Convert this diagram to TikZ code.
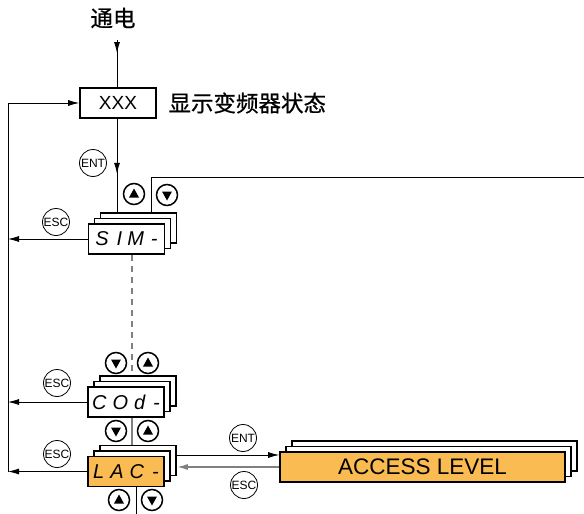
\documentclass[tikz,border=0pt]{standalone}
\usepackage{fontspec}
\setsansfont{Liberation Sans}
\newfontfamily\cjk[FakeBold=0.6]{Noto Sans CJK SC}
\usetikzlibrary{calc,shadows,decorations.markings,arrows.meta}
\definecolor{panelorange}{RGB}{250,188,82}
\tikzset{
	lcd/.style={draw, line width=1.6pt, fill=white, inner sep=0pt, minimum height=30pt, minimum width=76pt, font=\sffamily\itshape\fontsize{20}{20}\selectfont},
	lcdstack/.style={lcd, double copy shadow={shadow xshift=6pt, shadow yshift=5.5pt, fill=white, draw=black, line width=1.6pt}},
	keybtn/.style={circle, draw, line width=0.8pt, minimum size=27pt, inner sep=0pt, font=\sffamily\fontsize{12}{12}\selectfont},
	arrowbtn/.style={circle, draw, line width=1.5pt, minimum size=21pt, inner sep=0pt},
	keyup/.style={arrowbtn, path picture={\fill ($(path picture bounding box.center)+(-5pt,-3.5pt)$) -- ++(10pt,0pt) -- ++(-5pt,9pt) -- cycle;}},
	keydown/.style={arrowbtn, path picture={\fill ($(path picture bounding box.center)+(-5pt,3.5pt)$) -- ++(10pt,0pt) -- ++(-5pt,-9pt) -- cycle;}},
	flow/.style={line width=0.8pt, -{Latex[length=11pt,width=6pt]}},
	tipat/.style={decoration={markings, mark=at position #1 with {\arrow{Latex[length=11pt,width=6pt]}}}, postaction={decorate}},
	cjklabel/.style={font=\cjk\fontsize{22.5}{22.5}\selectfont}
}
\begin{document}
\begin{tikzpicture}[x=1pt, y=-1pt]
	%%%%% START %%%%%
	\useasboundingbox (0,0) rectangle (584,514);
	
	\node[cjklabel] (power) at (113,18) {通电};
	\node[lcd, font=\sffamily\fontsize{19}{19}\selectfont] (xxx) at (118,103) {XXX};
	\node[cjklabel, anchor=west] (status) at (165,103) {显示变频器状态};
	
	\node[lcdstack] (sim) at (126.5,239) {S\hspace{8pt}I\hspace{5pt}M\hspace{7pt}-};
	\node[lcdstack] (cod) at (126,402) {C\hspace{6pt}O\hspace{6pt}d\hspace{8pt}-};
	\node[lcdstack, fill=panelorange] (lac) at (126,471.5) {L\hspace{6pt}A\hspace{6pt}C\hspace{8pt}-};
	\node[lcdstack, fill=panelorange, minimum width=285pt, font=\sffamily\fontsize{22.5}{22.5}\selectfont] (access) at (422.5,467) {ACCESS LEVEL};
	
	\node[keybtn] (ent1) at (93,163) {ENT};
	\node[keyup] (up1) at (134,194) {};
	\node[keydown] (dn1) at (167,195) {};
	\node[keybtn] (esc1) at (56,222) {ESC};
	\node[keydown] (dn2) at (116,363) {};
	\node[keyup] (up2) at (148,363) {};
	\node[keybtn] (esc2) at (57,383) {ESC};
	\node[keydown] (dn3) at (116,431) {};
	\node[keyup] (up3) at (148,431) {};
	\node[keybtn] (esc3) at (57,454) {ESC};
	\node[keyup] (up4) at (119,500) {};
	\node[keydown] (dn4) at (152,500) {};
	\node[keybtn] (ent2) at (243,438) {ENT};
	\node[keybtn] (esc4) at (244,485) {ESC};
	
	\coordinate (ontop) at (117,40);
	\coordinate (loop) at (8,471.5);
	\coordinate (rightend) at (584,177);
	\coordinate (bottomend) at (136,514);
	\coordinate (lacback) at ($(lac.east)+(12,0)$);
	
	\draw[line width=0.8pt, tipat=13pt] (ontop) -- (ontop |- xxx.north);
	\draw[line width=0.8pt, tipat=55pt] (xxx.south -| ontop) -- ($(ontop |- sim.north)+(0,-11)$);
	\draw[line width=0.8pt] ($(sim.north)+(24.5,-11)$) |- (rightend);
	
	\draw[flow] (sim.west) -- (sim.west -| loop);
	\draw[flow] (cod.west) -- (cod.west -| loop);
	\draw[flow] (lac.west) -- (loop);
	\draw[flow] (loop) |- (xxx.west);
	
	\draw[gray, line width=1.4pt, dash pattern=on 6pt off 5pt] ($(sim.south)+(5.5,0)$) -- ($(cod.north)+(6,-11)$);
	\draw[gray, line width=1.4pt] ($(cod.south)+(6,0)$) -- ($(lac.north)+(6,-11)$);
	\draw[line width=0.8pt] ($(lac.south)+(10,0)$) -- (bottomend);
	
	\draw[flow] ($(lac.east)+(11,-16.5)$) coordinate (entstart) -- (entstart -| access.west);
	\draw[flow, gray, line width=1.6pt] (access.west) -- (lacback |- access.west);
	%%%%% END %%%%%
\end{tikzpicture}
\end{document}
